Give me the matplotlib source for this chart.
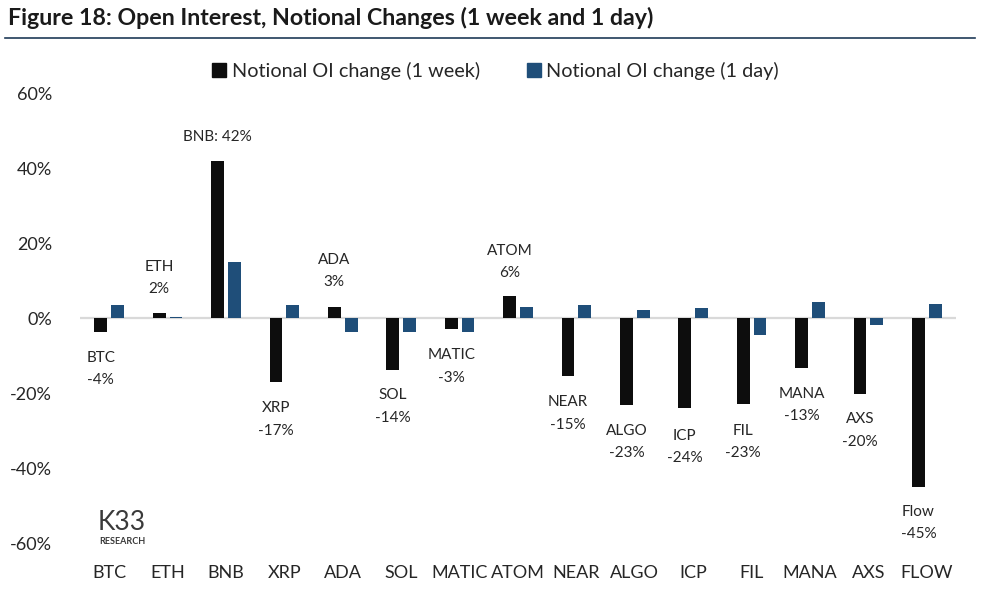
import numpy as np
import matplotlib.pyplot as plt
from matplotlib.lines import Line2D

# data (percent)
coins = ["BTC", "ETH", "BNB", "XRP", "ADA", "SOL", "MATIC", "ATOM",
         "NEAR", "ALGO", "ICP", "FIL", "MANA", "AXS", "FLOW"]
oi_week = [-3.7, 1.6, 42.0, -17.0, 3.2, -13.7, -2.7, 5.9,
           -15.4, -23.0, -24.0, -22.8, -13.2, -20.2, -44.9]
oi_day = [3.5, 0.3, 15.0, 3.5, -3.5, -3.5, -3.5, 3.0,
          3.7, 2.2, 2.7, -4.5, 4.3, -1.8, 4.0]
label_names = ["BTC", "ETH", "BNB", "XRP", "ADA", "SOL", "MATIC", "ATOM",
               "NEAR", "ALGO", "ICP", "FIL", "MANA", "AXS", "Flow"]

# hand-placed label heights (data units), like the Excel original
label_y = [-13.4, 10.8, 48.6, -27.0, 12.6, -23.5, -12.8, 15.2,
           -25.4, -33.1, -34.3, -33.0, -23.2, -29.9, -54.6]

c_week = "#0d0d0d"
c_day = "#1f4e79"
font = "Lato"
plt.rcParams["font.family"] = [font, "DejaVu Sans"]

fig = plt.figure(figsize=(9.87, 5.96), dpi=100)
ax = fig.add_axes([80 / 987, 1 - 543 / 596, 876 / 987, 449 / 596])

x = np.arange(len(coins))
w = 0.22
ax.bar(x - 0.145, oi_week, width=w, color=c_week, zorder=3)
ax.bar(x + 0.145, oi_day, width=w, color=c_day, zorder=3)
ax.axhline(0, color="#d9d9d9", lw=1.6, zorder=1)

for i in range(len(coins)):
    val = "%d%%" % round(oi_week[i])
    if coins[i] == "BNB":
        txt = label_names[i] + ": " + val
    else:
        txt = label_names[i] + "\n" + val
    ax.text(x[i] - 0.145, label_y[i], txt, ha="center", va="center",
            fontsize=11, color="#262626", linespacing=1.75)

ax.set_xlim(-0.5, len(coins) - 0.5)
ax.set_ylim(-60, 60)
ax.set_yticks([-60, -40, -20, 0, 20, 40, 60])
ax.set_yticklabels(["%d%%" % v for v in [-60, -40, -20, 0, 20, 40, 60]])
ax.set_xticks(x)
ax.set_xticklabels(coins)
ax.tick_params(axis="y", length=0, pad=20, labelsize=13, labelcolor="#262626")
ax.tick_params(axis="x", length=0, pad=16, labelsize=13, labelcolor="#262626")
for s in ax.spines.values():
    s.set_visible(False)

# legend
handles = [Line2D([], [], marker="s", ls="", color=c_week, markersize=10),
           Line2D([], [], marker="s", ls="", color=c_day, markersize=10)]
fig.legend(handles, ["Notional OI change (1 week)", "Notional OI change (1 day)"],
           loc="center", bbox_to_anchor=(0.5025, 1 - 71 / 596), ncol=2,
           frameon=False, fontsize=14.3, handlelength=0.6, handletextpad=0.35,
           columnspacing=2.4, labelcolor="#262626")

# title and rule
fig.text(8 / 987, 1 - 18 / 596, "Figure 18: Open Interest, Notional Changes (1 week and 1 day)",
         fontsize=16.7, fontweight="bold", va="center", ha="left", color="#1a1a1a")
fig.add_artist(Line2D([5 / 987, 975 / 987], [1 - 38 / 596, 1 - 38 / 596],
                      color="#1f3b57", lw=1.2))

# logo
fig.text(122 / 987, 1 - 530 / 596, "K33", fontsize=19, ha="center", va="baseline",
         color="#3a3a3a")
fig.text(122 / 987, 1 - 537 / 596, "RESEARCH", fontsize=6.5, ha="center", va="top",
         color="#3a3a3a", fontweight="bold")

fig.savefig("out.png", dpi=100)
